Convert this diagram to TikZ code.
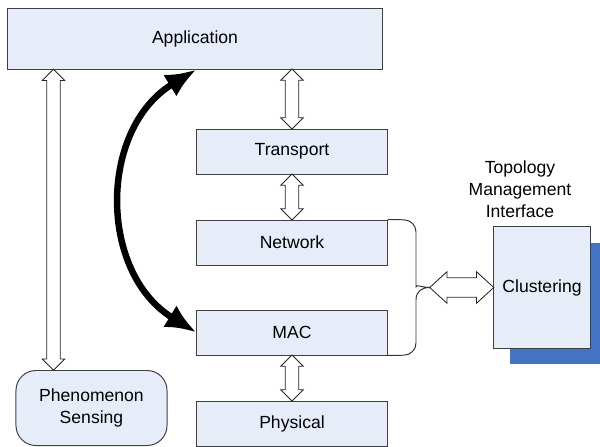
\documentclass[tikz,border=0pt]{standalone}
\usepackage{fontspec}
\setmainfont{Liberation Sans}
\usetikzlibrary{shapes.arrows,arrows.meta,calc,shadows}
\definecolor{boxfill}{RGB}{231,237,248}
\definecolor{shadowblue}{RGB}{68,114,196}

\begin{document}
\begin{tikzpicture}[x=0.025cm, y=-0.025cm, font=\fontsize{12.5}{15.5}\selectfont]
	\tikzstyle{layer}=[draw=black!75, fill=boxfill, line width=0.7pt, minimum width=4.75cm, minimum height=1.125cm, inner sep=2pt]
	\tikzstyle{updown}=[double arrow, draw=black!85, fill=white, line width=0.6pt, inner sep=0.16cm, double arrow head extend=0.11cm, rotate=90]
	\tikzstyle{sideways}=[double arrow, draw=black!85, fill=white, line width=0.6pt, inner sep=0.235cm, double arrow head extend=0.15cm, double arrow tip angle=85]
	\useasboundingbox (0,0) rectangle (600,447);

	% Stack
	\node at (195, 38.5) [layer, minimum width=9.35cm, minimum height=1.525cm] (app) {Application};
	\node at (292, 151.5) [layer] (trans) {Transport};
	\node at (292, 242.5) [layer] (net) {Network};
	\node at (292, 332.5) [layer] (mac) {MAC};
	\node at (292, 423.5) [layer] (phy) {Physical};
	\node at (91.5, 408) [layer, rounded corners=0.5cm, minimum width=3.775cm, minimum height=1.875cm, align=center] (sense) {Phenomenon\\Sensing};

	% Topology management
	\node at (542, 287.5) [layer, minimum width=2.4cm, minimum height=3.025cm, drop shadow={fill=shadowblue, opacity=1, shadow xshift=0.4cm, shadow yshift=-0.4cm}] (clus) {Clustering};
	\node at (520, 189) [align=center] (tmi) {Topology\\Management\\Interface};
	\coordinate (brace) at (430, 287.5);

	\node at ($(app.south -| trans)!0.5!(trans.north)$) [updown, minimum height=1.5cm] (appdown) {};
	\node at ($(trans.south)!0.5!(net.north)$) [updown, minimum height=1.15cm] (transdown) {};
	\node at ($(mac.south)!0.5!(phy.north)$) [updown, minimum height=1.15cm] (macdown) {};
	\node at ($(app.south -| 53.5,0)!0.5!(sense.north -| 53.5,0)$) [updown, minimum height=7.525cm] (sensedown) {};
	\node at ($(brace)!0.5!(clus.west)$) [sideways, minimum height=1.6cm] (clusleft) {};

	\draw [draw=black!80, line width=0.7pt] (net.north east) [rounded corners=0.3cm] -- (416,220) -- (416,275) [sharp corners] .. controls (416,284) and (422,287.5) .. (brace) .. controls (422,287.5) and (416,291) .. (416,300) [rounded corners=0.3cm] -- (416,355) -- (mac.south east);

	\draw [line width=4.6pt, {Latex[length=22pt,width=18pt]}-{Latex[length=22pt,width=18pt]}] (app.south -| mac.west) .. controls (98.5,129) and (98.5,272.5) .. (mac.west);
\end{tikzpicture}
\end{document}
